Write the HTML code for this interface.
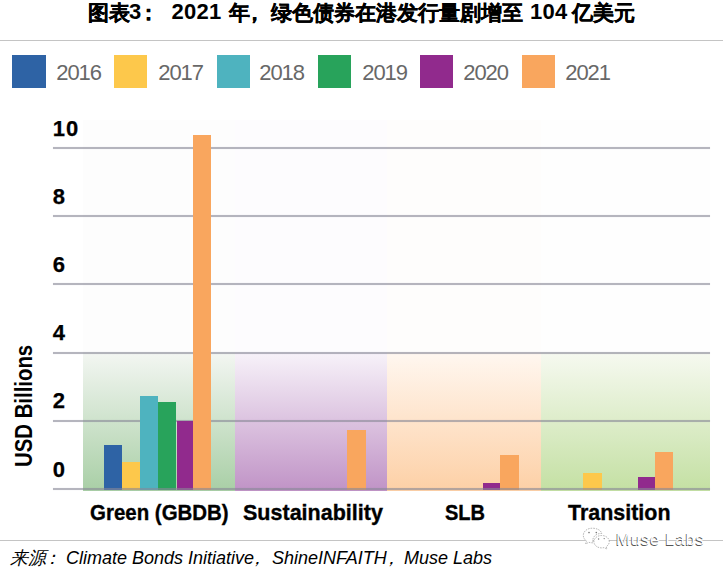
<!DOCTYPE html>
<html><head><meta charset="utf-8">
<style>
html,body{margin:0;padding:0;background:#fff;}
body{width:725px;height:569px;position:relative;overflow:hidden;font-family:"Liberation Sans",sans-serif;}
.a{position:absolute;}
.tt{top:1px;font-size:21px;font-weight:bold;color:#000;line-height:24px;white-space:nowrap;-webkit-text-stroke:0.3px #000;}
.tl{top:-0.5px;font-size:22px;font-weight:bold;color:#000;line-height:24px;white-space:nowrap;}
.sep{left:0;width:723px;height:1px;background:#c4c4c4;}
.sq{width:33.2px;height:32.8px;top:55.2px;}
.lt{top:61.2px;font-size:22px;letter-spacing:-1.1px;color:#686868;line-height:24px;}
.band{top:120.3px;height:370.3px;}
.grid{left:53px;width:657px;height:2px;background:rgba(136,136,150,0.62);box-shadow:0 0 0.8px rgba(136,136,150,0.45);}
.yl{left:52.8px;font-size:22px;-webkit-text-stroke:0.25px #000;letter-spacing:1px;font-weight:bold;color:#000;line-height:20px;}
.bar{bottom:78.8px;}
.xl{top:501px;font-size:22px;-webkit-text-stroke:0.35px #000;transform-origin:0 0;font-weight:bold;color:#000;line-height:24px;white-space:nowrap;}
.foot{top:548px;font-size:18px;font-style:italic;color:#000;line-height:20px;white-space:nowrap;}
</style></head><body>
<div class="a tt" style="left:88px">图表</div><div class="a tl" style="left:129px">3</div><div class="a tt" style="left:138px">：</div>
<div class="a tl" style="left:171.5px;letter-spacing:0.3px">2021</div><div class="a tt" style="left:229px">年</div><div class="a tt" style="left:244px">，</div>
<div class="a tt" style="left:271px">绿色债券在港发行量剧增至</div>
<div class="a tl" style="left:530px;letter-spacing:0.3px">104</div><div class="a tt" style="left:572px">亿美元</div>
<div class="a sep" style="top:40px"></div>

<div class="a sq" style="left:12.4px;background:#2e63a5"></div><div class="a lt" style="left:56.3px">2016</div>
<div class="a sq" style="left:113.7px;background:#fdc84b"></div><div class="a lt" style="left:158.3px">2017</div>
<div class="a sq" style="left:216.8px;background:#4eb3bf"></div><div class="a lt" style="left:259.3px">2018</div>
<div class="a sq" style="left:318.2px;background:#28a35b"></div><div class="a lt" style="left:362.3px">2019</div>
<div class="a sq" style="left:419.6px;background:#912a8d"></div><div class="a lt" style="left:463.3px">2020</div>
<div class="a sq" style="left:521.8px;background:#f9a65e"></div><div class="a lt" style="left:565.3px">2021</div>

<!-- bands -->
<div class="a band" style="left:82.6px;width:152.8px;background:linear-gradient(#fdfdfd,#fdfdfd 232px,#f3f6f2 233px,#a9cfa6)"></div>
<div class="a band" style="left:235.4px;width:151.5px;background:linear-gradient(#fdfcfe,#fdfcfe 232px,#f7f2f9 233px,#c093c6)"></div>
<div class="a band" style="left:386.9px;width:153.7px;background:linear-gradient(#fefdfc,#fefdfc 232px,#fff7f0 233px,#fdd0a6)"></div>
<div class="a band" style="left:540.6px;width:169.7px;background:linear-gradient(#fefefe,#fefefe 232px,#f6f9f0 233px,#c4e0a3)"></div>

<!-- gridlines -->
<div class="a grid" style="top:147px"></div>
<div class="a grid" style="top:215px"></div>
<div class="a grid" style="top:283px"></div>
<div class="a grid" style="top:352px"></div>
<div class="a grid" style="top:420px"></div>

<div class="a yl" style="top:118.6px">10</div>
<div class="a yl" style="top:186.6px">8</div>
<div class="a yl" style="top:255px">6</div>
<div class="a yl" style="top:323.2px">4</div>
<div class="a yl" style="top:391.4px">2</div>
<div class="a yl" style="top:459.6px">0</div>

<div class="a" style="left:13.5px;top:466.5px;transform-origin:0 0;transform:rotate(-90deg) scaleX(0.885);font-size:23px;font-weight:bold;line-height:20px;white-space:nowrap">USD Billions</div>

<!-- bars -->
<div class="a bar" style="left:103.9px;width:18.5px;top:445.4px;background:#2e63a5"></div>
<div class="a bar" style="left:122.4px;width:17.4px;top:462.2px;background:#fdc84b"></div>
<div class="a bar" style="left:139.8px;width:18.5px;top:396.2px;background:#4eb3bf"></div>
<div class="a bar" style="left:158.3px;width:18.2px;top:402.1px;background:#28a35b"></div>
<div class="a bar" style="left:176.5px;width:16.0px;top:420.7px;background:#912a8d"></div>
<div class="a bar" style="left:192.5px;width:18.8px;top:135.1px;background:#f9a65e"></div>
<div class="a bar" style="left:347.1px;width:18.8px;top:429.6px;background:#f9a65e"></div>
<div class="a bar" style="left:483.1px;width:17.1px;top:482.5px;background:#912a8d"></div>
<div class="a bar" style="left:500.2px;width:18.6px;top:455.1px;background:#f9a65e"></div>
<div class="a bar" style="left:583.3px;width:18.6px;top:472.6px;background:#fdc84b"></div>
<div class="a bar" style="left:637.7px;width:17.3px;top:476.7px;background:#912a8d"></div>
<div class="a bar" style="left:655.0px;width:18.3px;top:452.0px;background:#f9a65e"></div>
<div class="a grid" style="top:488px"></div>
<div class="a xl" style="left:90px;transform:scaleX(0.93)">Green (GBDB)</div>
<div class="a xl" style="left:243px;transform:scaleX(0.978)">Sustainability</div>
<div class="a xl" style="left:445px;transform:scaleX(0.91)">SLB</div>
<div class="a xl" style="left:567.8px;transform:scaleX(0.975)">Transition</div>

<div class="a sep" style="top:540px"></div>
<div class="a foot" style="left:10px">来源</div><div class="a foot" style="left:43px">：</div><div class="a foot" style="left:66px">Climate Bonds Initiative</div><div class="a foot" style="left:248px">，</div>
<div class="a foot" style="left:272px">ShineINFAITH</div><div class="a foot" style="left:382px">，</div><div class="a foot" style="left:404px">Muse Labs</div>

<svg class="a" style="left:578.5px;top:523.5px" width="34" height="30" viewBox="0 0 34 30">
<g fill="#fff" stroke="#9a9a9a" stroke-width="0.7" stroke-dasharray="1.6 1">
<path d="M13.2 4.2 C8.2 4.2 4.3 7.4 4.3 11.4 C4.3 13.7 5.5 15.6 7.5 17 L6.6 20 L9.9 18.3 C11 18.6 12 18.8 13.2 18.8 C13.5 18.8 13.9 18.8 14.2 18.7 C13.9 17.9 13.8 17.1 13.8 16.3 C13.8 12.5 17.4 9.5 21.9 9.5 C22.2 9.5 22.5 9.5 22.8 9.5 C22 6.4 18.2 4.2 13.2 4.2 Z"/>
<path d="M30.3 17.7 C30.3 14.3 27 11.5 22.6 11.5 C18.2 11.5 14.9 14.3 14.9 17.7 C14.9 21.1 18.2 23.9 22.6 23.9 C23.5 23.9 24.3 23.8 25.1 23.6 L27.9 25.1 L27.2 22.6 C29.1 21.5 30.3 19.7 30.3 17.7 Z"/>
</g>
<g fill="#777"><circle cx="10" cy="8.6" r="0.8"/><circle cx="17.3" cy="8.6" r="0.8"/><circle cx="19.6" cy="15" r="0.7"/><circle cx="25.2" cy="14.6" r="0.7"/></g>
</svg>
<div class="a" style="left:616px;top:530px;font-size:17px;line-height:20px;letter-spacing:0.6px;color:#fff;text-shadow:-0.7px 0.7px 0.2px #555;white-space:nowrap">Muse Labs</div>
</body></html>
